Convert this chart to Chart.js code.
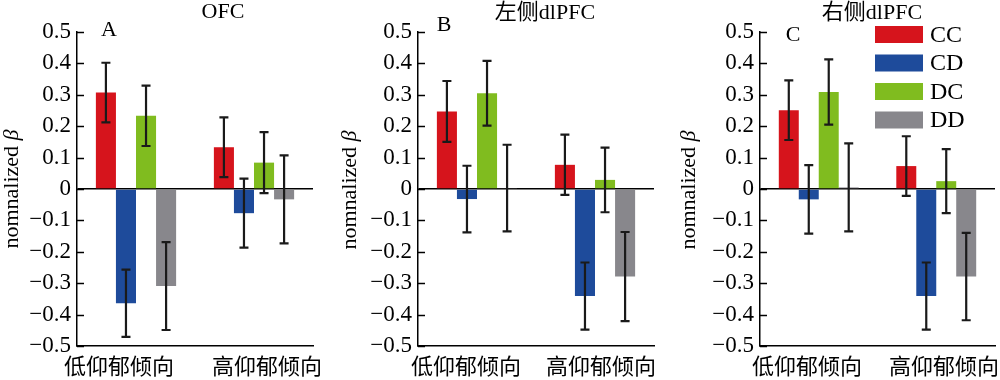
<!DOCTYPE html>
<html>
<head>
<meta charset="utf-8">
<script src="https://cdn.jsdelivr.net/npm/chart.js@4.4.1/dist/chart.umd.min.js"></script>
<style>
html,body{margin:0;padding:0;background:#fff;}
#wrap{position:relative;width:1000px;height:380px;overflow:hidden;}
canvas{position:absolute;top:0;}
</style>
</head>
<body>
<div id="wrap">
<canvas id="cA" width="333" height="380" style="left:0px"></canvas>
<canvas id="cB" width="333" height="380" style="left:333px"></canvas>
<canvas id="cC" width="334" height="380" style="left:666px"></canvas>
</div>
<script>
// ---- data ----
const categories = ['低仰郁倾向', '高仰郁倾向'];
const seriesNames = ['CC', 'CD', 'DC', 'DD'];
const panelTitles = ['OFC', '左侧dlPFC', '右侧dlPFC'];
const panelLetters = ['A', 'B', 'C'];
const yAxisTitleMain = 'nomnalized ';
const yAxisTitleSymbol = 'β';

// Panel A: OFC
const ofcCC = [0.307, 0.133];
const ofcCD = [-0.364, -0.077];
const ofcDC = [0.233, 0.084];
const ofcDD = [-0.309, -0.033];
const ofcErrCC = [0.095, 0.095];
const ofcErrCD = [0.107, 0.110];
const ofcErrDC = [0.096, 0.097];
const ofcErrDD = [0.140, 0.140];

// Panel B: left dlPFC
const lCC = [0.247, 0.077];
const lCD = [-0.032, -0.341];
const lDC = [0.305, 0.029];
const lDD = [0.003, -0.279];
const lErrCC = [0.097, 0.096];
const lErrCD = [0.106, 0.107];
const lErrDC = [0.103, 0.103];
const lErrDD = [0.138, 0.142];

// Panel C: right dlPFC
const rCC = [0.251, 0.073];
const rCD = [-0.033, -0.341];
const rDC = [0.309, 0.025];
const rDD = [0.005, -0.279];
const rErrCC = [0.095, 0.095];
const rErrCD = [0.109, 0.107];
const rErrDC = [0.104, 0.102];
const rErrDD = [0.140, 0.139];

const colors = ['#d6141c', '#1e4b9b', '#80bc1f', '#88878c'];

const SERIF = "'Liberation Serif', 'Noto Sans CJK SC', serif";
const CJK = "'Noto Sans CJK SC', sans-serif";

// ---- plugins ----
const errorBarPlugin = {
  id: 'errorBars',
  afterDatasetsDraw(chart) {
    const ctx = chart.ctx;
    const ys = chart.scales.y;
    ctx.save();
    ctx.strokeStyle = '#1a1a1a';
    ctx.lineWidth = 2.2;
    chart.data.datasets.forEach((ds, di) => {
      const meta = chart.getDatasetMeta(di);
      meta.data.forEach((bar, i) => {
        const v = ds.data[i], e = ds.errors[i];
        const yt = ys.getPixelForValue(v + e);
        const yb = ys.getPixelForValue(v - e);
        const x = bar.x;
        ctx.beginPath();
        ctx.moveTo(x, yt); ctx.lineTo(x, yb);
        ctx.moveTo(x - 4.5, yt); ctx.lineTo(x + 4.5, yt);
        ctx.moveTo(x - 4.5, yb); ctx.lineTo(x + 4.5, yb);
        ctx.stroke();
      });
    });
    ctx.restore();
  }
};

const innerTickPlugin = {
  id: 'innerTicks',
  afterDraw(chart) {
    const ctx = chart.ctx;
    const ys = chart.scales.y;
    const left = chart.chartArea.left;
    ctx.save();
    ctx.strokeStyle = '#000';
    ctx.lineWidth = 1.5;
    ys.ticks.forEach(t => {
      const y = Math.round(ys.getPixelForValue(t.value)) + 0.5;
      ctx.beginPath();
      ctx.moveTo(left, y); ctx.lineTo(left + 7, y);
      ctx.stroke();
    });
    ctx.restore();
  }
};

const panelTextPlugin = {
  id: 'panelText',
  afterDraw(chart, args, opts) {
    const ctx = chart.ctx;
    ctx.save();
    ctx.fillStyle = '#000';
    ctx.textAlign = 'center';
    ctx.textBaseline = 'middle';
    ctx.font = '22px ' + SERIF;
    ctx.fillText(opts.title, opts.titleX, opts.titleY);
    ctx.font = '22px ' + SERIF;
    ctx.fillText(opts.letter, opts.letterX, opts.letterY);

    // category labels
    ctx.font = '22px ' + CJK;
    chart.data.labels.forEach((lab, i) => {
      ctx.fillText(lab, opts.catX[i], opts.catY);
    });

    // y-axis title with italic beta
    ctx.save();
    ctx.translate(opts.yTitleX, opts.yTitleY);
    ctx.rotate(-Math.PI / 2);
    ctx.textAlign = 'left';
    ctx.font = '22px ' + SERIF;
    const w1 = ctx.measureText(yAxisTitleMain).width;
    ctx.font = 'italic 22px ' + SERIF;
    const w2 = ctx.measureText(yAxisTitleSymbol).width;
    const start = -(w1 + w2) / 2;
    ctx.font = '22px ' + SERIF;
    ctx.fillText(yAxisTitleMain, start, 0);
    ctx.font = 'italic 22px ' + SERIF;
    ctx.fillText(yAxisTitleSymbol, start + w1, 0);
    ctx.restore();

    if (opts.legend) {
      const L = opts.legend;
      chart.data.datasets.forEach((ds, i) => {
        const top = L.top + i * L.step;
        ctx.fillStyle = ds.backgroundColor;
        ctx.fillRect(L.x, top, L.w, L.h);
        ctx.fillStyle = '#000';
        ctx.textAlign = 'left';
        ctx.font = '24px ' + SERIF;
        ctx.fillText(ds.label, L.textX, top + L.h / 2 + 1);
      });
    }
    ctx.restore();
  }
};

function fmt(v) {
  const r = Math.round(v * 10) / 10;
  if (r === 0) return '0';
  const s = Math.abs(r).toFixed(1);
  return (r < 0 ? '\u2212' : '') + s;
}

function makeChart(id, vals, errs, geom, text) {
  const datasets = seriesNames.map((name, i) => ({
    label: name,
    data: vals[i],
    errors: errs[i],
    backgroundColor: colors[i],
    borderWidth: 0,
    barPercentage: 1.0,
    categoryPercentage: 0.68
  }));
  return new Chart(document.getElementById(id), {
    type: 'bar',
    data: { labels: categories, datasets },
    plugins: [errorBarPlugin, innerTickPlugin, panelTextPlugin],
    options: {
      responsive: false,
      animation: false,
      devicePixelRatio: 1,
      layout: { padding: { top: 32, right: geom.W - geom.right, bottom: 0, left: 0 } },
      plugins: {
        legend: { display: false },
        tooltip: { enabled: false },
        panelText: text
      },
      scales: {
        x: {
          grid: { display: false, drawTicks: false },
          border: { display: true, color: '#000', width: 1.5 },
          ticks: { display: false },
          afterFit(s) { s.height = 34; }
        },
        y: {
          min: -0.5, max: 0.5,
          ticks: { stepSize: 0.1, color: '#000', padding: 6, font: { family: SERIF, size: 23 }, callback: v => fmt(v) },
          grid: {
            drawTicks: false,
            lineWidth: 1.5,
            color: c => (c.tick && Math.abs(c.tick.value) < 1e-9) ? '#000' : 'rgba(0,0,0,0)'
          },
          border: { display: true, color: '#000', width: 1.5 },
          title: { display: false },
          afterFit(s) { s.width = geom.left; }
        }
      }
    }
  });
}

makeChart('cA', [ofcCC, ofcCD, ofcDC, ofcDD], [ofcErrCC, ofcErrCD, ofcErrDC, ofcErrDD],
  { W: 333, left: 77, right: 313 },
  { title: panelTitles[0], titleX: 223, titleY: 12, letter: panelLetters[0], letterX: 109, letterY: 30,
    catX: [119, 267], catY: 366, yTitleX: 12, yTitleY: 189 });

makeChart('cB', [lCC, lCD, lDC, lDD], [lErrCC, lErrCD, lErrDC, lErrDD],
  { W: 333, left: 85, right: 321 },
  { title: panelTitles[1], titleX: 212, titleY: 13, letter: panelLetters[1], letterX: 111, letterY: 25,
    catX: [133, 268], catY: 366, yTitleX: 17, yTitleY: 190 });

makeChart('cC', [rCC, rCD, rDC, rDD], [rErrCC, rErrCD, rErrDC, rErrDD],
  { W: 334, left: 94, right: 329 },
  { title: panelTitles[2], titleX: 206, titleY: 13, letter: panelLetters[2], letterX: 127, letterY: 35,
    catX: [141, 278], catY: 366, yTitleX: 23, yTitleY: 190,
    legend: { x: 209, w: 48, h: 17, top: 26, step: 28.5, textX: 264 } });
</script>
</body>
</html>
